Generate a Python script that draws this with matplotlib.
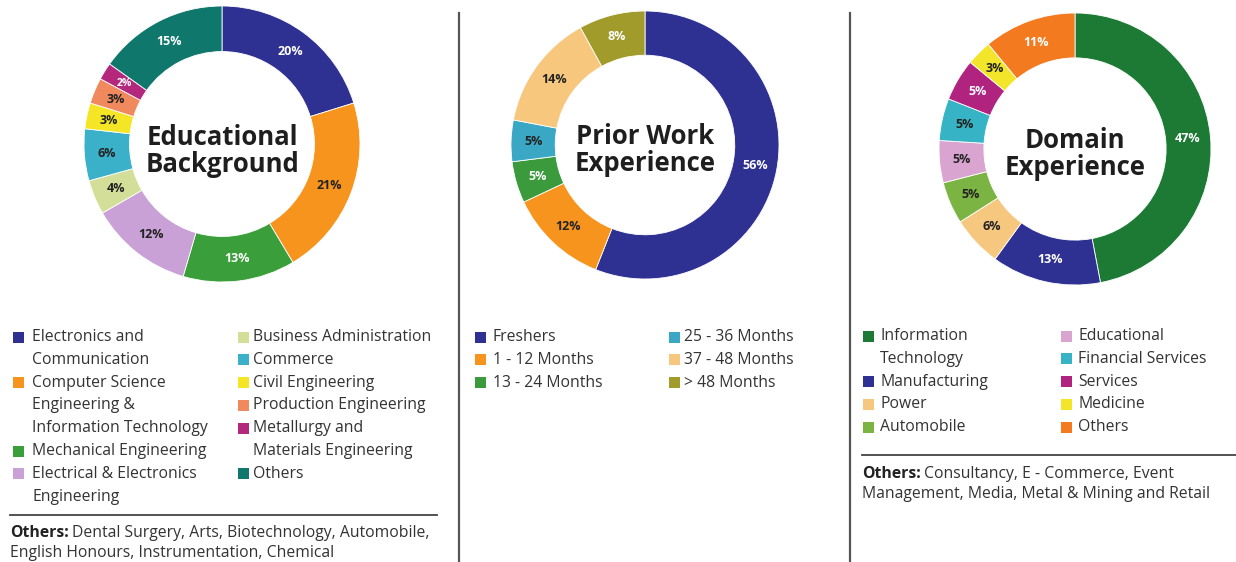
import numpy as np
import matplotlib.pyplot as plt
from matplotlib.patches import Rectangle

plt.rcParams['font.family'] = ['Open Sans', 'DejaVu Sans']

# ---- data ----
edu_labels = ['Electronics and\nCommunication', 'Computer Science\nEngineering &\nInformation Technology',
              'Mechanical Engineering', 'Electrical & Electronics\nEngineering',
              'Business Administration', 'Commerce', 'Civil Engineering',
              'Production Engineering', 'Metallurgy and\nMaterials Engineering', 'Others']
edu_values = [20, 21, 13, 12, 4, 6, 3, 3, 2, 15]
edu_colors = ['#2f3192', '#f7941d', '#3a9e3a', '#c9a1d6', '#d3df98', '#3bb0c9',
              '#f4e625', '#f08a5e', '#b3277d', '#0f776c']
edu_text = ['w', 'k', 'w', 'k', 'k', 'k', 'k', 'k', 'w', 'w']

work_labels = ['Freshers', '1 - 12 Months', '13 - 24 Months',
               '25 - 36 Months', '37 - 48 Months', '> 48 Months']
work_values = [56, 12, 5, 5, 14, 8]
work_colors = ['#2f3192', '#f7941d', '#3a9a3c', '#3aa8c4', '#f6c77c', '#a19b2b']
work_text = ['w', 'k', 'w', 'k', 'k', 'w']

dom_labels = ['Information\nTechnology', 'Manufacturing', 'Power', 'Automobile',
              'Educational', 'Financial Services', 'Services', 'Medicine', 'Others']
dom_values = [47, 13, 6, 5, 5, 5, 5, 3, 11]
dom_colors = ['#1d7a35', '#2f3192', '#f5c77f', '#7cb443', '#d9a5d0', '#36b3c5',
              '#b0247f', '#f3e62a', '#f47a20']
dom_text = ['w', 'w', 'k', 'k', 'k', 'k', 'w', 'k', 'w']

W, H = 1236, 562
fig = plt.figure(figsize=(W / 100, H / 100), dpi=100)

# background axes in pixel coords for text, legend and rules
bg = fig.add_axes([0, 0, 1, 1])
bg.set_xlim(0, W)
bg.set_ylim(H, 0)
bg.axis('off')


def donut(cx, cy, r, values, colors, tcols, title, tdy):
    s = 1.05
    ax = fig.add_axes([(cx - r * s) / W, (H - cy - r * s) / H, 2 * r * s / W, 2 * r * s / H])
    ax.pie(values, colors=colors, startangle=90, counterclock=False, radius=1,
           wedgeprops=dict(width=0.33, edgecolor='white', linewidth=0.6))
    ax.set_xlim(-s, s)
    ax.set_ylim(-s, s)
    total = sum(values)
    start = 90.0
    for v, tc in zip(values, tcols):
        ang = np.deg2rad(start - 360.0 * v / total / 2)
        start -= 360.0 * v / total
        ax.text(0.835 * np.cos(ang), 0.835 * np.sin(ang), f'{v}%', ha='center', va='center',
                fontsize=7.5 if v < 3 else 9, fontweight='bold',
                color='white' if tc == 'w' else '#222222')
    ax.text(0, -tdy / r, title, ha='center', va='center', fontsize=18.5, fontweight='bold',
            color='#1e1e1e', linespacing=1.0)


donut(222, 144, 138, edu_values, edu_colors, edu_text, 'Educational\nBackground', 7)
donut(645, 145, 134, work_values, work_colors, work_text, 'Prior Work\nExperience', 5)
donut(1075, 149, 136, dom_values, dom_colors, dom_text, 'Domain\nExperience', 5)

FS = 11.3


def legend(labels, colors, cols, y0, split, step=22.8):
    for c, (sx, tx) in enumerate(cols):
        items = range(0, split) if c == 0 else range(split, len(labels))
        row = 0
        for i in items:
            y = y0 + row * step
            bg.add_patch(Rectangle((sx - 5.5, y - 5.5), 11, 11, color=colors[i], lw=0))
            for j, line in enumerate(labels[i].split('\n')):
                bg.text(tx, y + j * step, line, ha='left', va='center', fontsize=FS,
                        color='#333333')
            row += labels[i].count('\n') + 1


legend(edu_labels, edu_colors, [(18, 32), (243, 253)], 337, 4)
legend(work_labels, work_colors, [(480, 493), (674, 684)], 337, 3)
legend(dom_labels, dom_colors, [(868, 880), (1066, 1078)], 336, 4)

# separators and rules
bg.plot([459, 459], [13, H], color='#555555', lw=1.6)
bg.plot([850, 850], [13, H], color='#555555', lw=1.6)
bg.plot([10, 437], [515, 515], color='#444444', lw=1.3)
bg.plot([862, W], [455, 455], color='#444444', lw=1.3)

fig.canvas.draw()
rend = fig.canvas.get_renderer()


def others(x, y, rest, step=20):
    t = bg.text(x, y, 'Others:', ha='left', va='center', fontsize=FS,
                fontweight='bold', color='#222222')
    bb = t.get_window_extent(renderer=rend)
    bg.text(x + bb.width + 3, y, rest[0], ha='left', va='center', fontsize=FS, color='#333333')
    for k, line in enumerate(rest[1:]):
        bg.text(x, y + (k + 1) * step, line, ha='left', va='center', fontsize=FS,
                color='#333333')


others(10, 533, ['Dental Surgery, Arts, Biotechnology, Automobile,',
                 'English Honours, Instrumentation, Chemical'])
others(862, 474, ['Consultancy, E - Commerce, Event',
                  'Management, Media, Metal & Mining and Retail'])

fig.savefig('out.png', dpi=100)
